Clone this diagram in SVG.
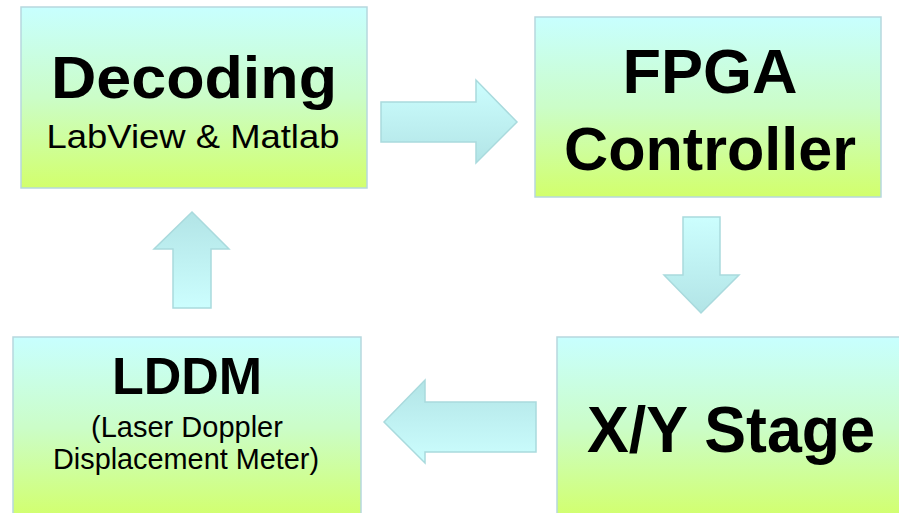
<svg xmlns="http://www.w3.org/2000/svg" width="899" height="513" viewBox="0 0 899 513">
  <defs>
    <!-- box fill: pale cyan fading to yellow-green -->
    <linearGradient id="boxFill" x1="0" y1="0" x2="0" y2="1">
      <stop offset="0" stop-color="#c8ffff"/>
      <stop offset="0.5" stop-color="#cbfdc8"/>
      <stop offset="1" stop-color="#d2ff6c"/>
    </linearGradient>
    <!-- arrow fills: lighter at the tail, a little darker toward one side -->
    <linearGradient id="arrowDown" x1="0" y1="0" x2="0" y2="1">
      <stop offset="0" stop-color="#ccfefe"/>
      <stop offset="1" stop-color="#b2e4e6"/>
    </linearGradient>
    <linearGradient id="arrowUp" x1="0" y1="1" x2="0" y2="0">
      <stop offset="0" stop-color="#ccfefe"/>
      <stop offset="1" stop-color="#b2e4e6"/>
    </linearGradient>
    <style>
      .box { fill: url(#boxFill); stroke: #b6d8de; stroke-width: 1.5; }
      .arrow { stroke: #a9dadd; stroke-width: 1.5; stroke-linejoin: miter; }
      .title { font-family: "Liberation Sans", Arial, sans-serif; font-weight: bold; fill: #000; text-anchor: middle; }
      .sub { font-family: "Liberation Sans", Arial, sans-serif; font-weight: normal; fill: #000; text-anchor: middle; }
    </style>
  </defs>

  <rect width="899" height="513" fill="#ffffff"/>

  <g id="decoding">
    <rect class="box" x="21" y="7" width="346" height="181"/>
    <text class="title" x="194" y="98" font-size="59" textLength="286" lengthAdjust="spacingAndGlyphs">Decoding</text>
    <text class="sub" x="193" y="148" font-size="34" textLength="293" lengthAdjust="spacingAndGlyphs">LabView &amp; Matlab</text>
  </g>

  <g id="fpga">
    <rect class="box" x="535" y="17" width="346" height="180"/>
    <text class="title" x="710" y="93" font-size="63">FPGA</text>
    <text class="title" x="710" y="170" font-size="62" textLength="292" lengthAdjust="spacingAndGlyphs">Controller</text>
  </g>

  <g id="xy-stage">
    <rect class="box" x="557" y="337" width="360" height="181"/>
    <text class="title" x="731" y="452" font-size="64" textLength="288" lengthAdjust="spacingAndGlyphs">X/Y Stage</text>
  </g>

  <g id="lddm">
    <rect class="box" x="13" y="337" width="348" height="181"/>
    <text class="title" x="187" y="394" font-size="52">LDDM</text>
    <text class="sub" x="187" y="437" font-size="29">(Laser Doppler</text>
    <text class="sub" x="186" y="469" font-size="29" textLength="266" lengthAdjust="spacingAndGlyphs">Displacement Meter)</text>
  </g>

  <g id="connectors">
    <!-- Decoding -> FPGA -->
    <polygon class="arrow" fill="url(#arrowDown)" points="381,102 476,102 476,80 517,122 476,163 476,142 381,142"/>
    <!-- FPGA -> X/Y Stage -->
    <polygon class="arrow" fill="url(#arrowDown)" points="683,217 720,217 720,275 739,275 701,313 664,275 683,275"/>
    <!-- X/Y Stage -> LDDM -->
    <polygon class="arrow" fill="url(#arrowUp)" points="536,402 536,452 425,452 425,463 384,422 425,380 425,402"/>
    <!-- LDDM -> Decoding -->
    <polygon class="arrow" fill="url(#arrowUp)" points="192,212 229,249 211,249 211,308 173,308 173,249 154,249"/>
  </g>
</svg>
